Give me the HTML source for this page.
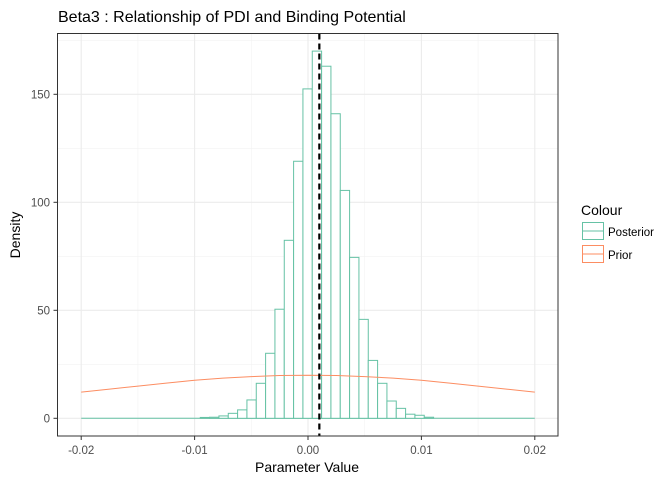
<!DOCTYPE html>
<html><head><meta charset="utf-8"><style>
body{margin:0;background:#fff;font-family:"Liberation Sans",Arial,sans-serif}
svg text{font-family:"Liberation Sans",Arial,sans-serif}
</style></head><body>
<svg id="chart" width="672" height="480" xmlns="http://www.w3.org/2000/svg">
<rect width="672" height="480" fill="#fff"/>
<text x="58" y="22" font-size="16" fill="#000">Beta3 : Relationship of PDI and Binding Potential</text>
<g id="grid"></g>
<g id="marks"></g>
<rect x="57.5" y="33.5" width="500.5" height="402.5" fill="none" stroke="#333" stroke-width="1"/>
<g id="axes"></g>
<text x="307" y="472" font-size="14" text-anchor="middle" fill="#000">Parameter Value</text>
<text transform="translate(20,235) rotate(-90)" font-size="14" text-anchor="middle" fill="#000">Density</text>
<g>
<text x="581" y="215" font-size="14" fill="#000">Colour</text>
<g>
<rect x="582.5" y="222.5" width="21" height="17" fill="#fff" stroke="#66c2a5"/>
<line x1="583" y1="231" x2="603" y2="231" stroke="#66c2a5"/>
<text x="608" y="236" font-size="11.5" fill="#000">Posterior</text></g>
<g>
<rect x="582.5" y="245.5" width="21" height="17" fill="#fff" stroke="#fc8d62"/>
<line x1="583" y1="254" x2="603" y2="254" stroke="#fc8d62"/>
<text x="608" y="259" font-size="11.5" fill="#000">Prior</text></g>
</g>
</svg>
<script>
const xTicks=[-0.02,-0.01,0,0.01,0.02];
const xTickLabels=["-0.02","-0.01","0.00","0.01","0.02"];
const yTicks=[0,50,100,150];
const yTickLabels=["0","50","100","150"];
const binStart=-0.0095;
const binWidth=0.000823;
const posteriorCounts=[0.4,0.5,1.1,2.3,3.9,8.5,16.2,30.1,50.5,82.4,119,152.5,170,163,141,105.5,74.5,45.8,26.8,16.2,8,4.6,1.9,1.4,0.5];
const priorX=[-0.02,-0.0175,-0.015,-0.0125,-0.01,-0.0075,-0.005,-0.0025,0,0.0025,0.005,0.0075,0.01,0.0125,0.015,0.0175,0.02];
const priorY=[12.1,13.5,14.9,16.3,17.6,18.6,19.3,19.8,19.95,19.8,19.3,18.6,17.6,16.3,14.9,13.5,12.1];
const vlineX=0.001;

const NS="http://www.w3.org/2000/svg";
const X=v=>308+v*11340;
const Y=v=>418.3-v*2.16;
function mk(parent,tag,attrs){const e=document.createElementNS(NS,tag);for(const k in attrs)e.setAttribute(k,attrs[k]);document.getElementById(parent).appendChild(e);return e;}

// grid
[-0.015,-0.005,0.005,0.015].forEach(v=>{const l=mk('grid','line',{x1:X(v),x2:X(v),y1:33.5,y2:436,stroke:'#f2f2f2','stroke-width':0.6});

});
[25,75,125,175].forEach(v=>{const l=mk('grid','line',{x1:57.5,x2:558,y1:Y(v),y2:Y(v),stroke:'#f2f2f2','stroke-width':0.6});

});
xTicks.forEach(v=>{const l=mk('grid','line',{x1:X(v),x2:X(v),y1:33.5,y2:436,stroke:'#ebebeb','stroke-width':1.1});

});
yTicks.forEach(v=>{const l=mk('grid','line',{x1:57.5,x2:558,y1:Y(v),y2:Y(v),stroke:'#ebebeb','stroke-width':1.1});

});

// posterior baseline
const bl=mk('marks','line',{x1:X(-0.02),x2:X(0.02),y1:Y(0),y2:Y(0),stroke:'#66c2a5','stroke-width':1});


posteriorCounts.forEach((c,i)=>{const x0=X(binStart+i*binWidth),x1=X(binStart+(i+1)*binWidth);
const r=mk('marks','rect',{x:x0,y:Y(c),width:x1-x0,height:Y(0)-Y(c),fill:'#fff',stroke:'#66c2a5','stroke-width':1});

});
const pl=mk('marks','polyline',{points:priorX.map((x,i)=>X(x)+','+Y(priorY[i])).join(' '),fill:'none',stroke:'#fc8d62','stroke-width':1});


const vl=mk('marks','line',{x1:X(vlineX),x2:X(vlineX),y1:33.5,y2:436,stroke:'#000','stroke-width':2.2,'stroke-dasharray':'6,4'});



// axes ticks
xTicks.forEach((v,i)=>{const t=mk('axes','line',{x1:X(v),x2:X(v),y1:436,y2:440,stroke:'#333'});


const l=mk('axes','text',{x:X(v),y:454,'font-size':11.5,'text-anchor':'middle',fill:'#4d4d4d'});l.textContent=xTickLabels[i];

});
yTicks.forEach((v,i)=>{const t=mk('axes','line',{x1:53.5,x2:57.5,y1:Y(v),y2:Y(v),stroke:'#333'});


const l=mk('axes','text',{x:50,y:Y(v)+4,'font-size':11.5,'text-anchor':'end',fill:'#4d4d4d'});l.textContent=yTickLabels[i];

});
</script>
</body></html>
